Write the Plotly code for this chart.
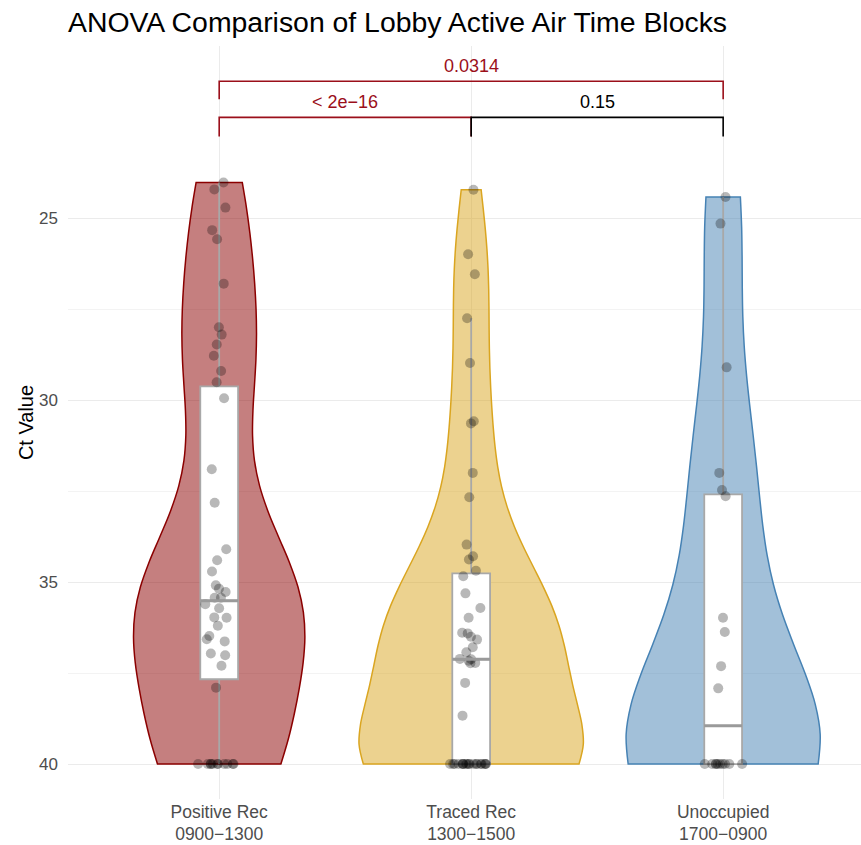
import numpy as np
import plotly.graph_objects as go

categories = ["Positive Rec<br>0900−1300", "Traced Rec<br>1300−1500", "Unoccupied<br>1700−0900"]

positive_rec = [24.02, 24.21, 24.71, 25.33, 25.58, 26.80, 28.00, 28.20, 28.47, 28.78,
                29.20, 29.51, 29.95, 31.90, 32.82, 34.10, 34.40, 34.71, 35.09, 35.18,
                35.27, 35.43, 35.43, 35.61, 35.72, 35.97, 35.98, 36.20, 36.48, 36.57,
                36.63, 36.96, 37.01, 37.30, 37.90] + [40.0] * 11
traced_rec = [24.22, 25.99, 26.54, 27.75, 28.98, 30.58, 30.64, 32.00, 32.67, 33.97,
              34.29, 34.38, 34.69, 34.84, 35.31, 35.71, 35.98, 36.39, 36.41, 36.50,
              36.58, 36.79, 36.93, 37.11, 37.12, 37.16, 37.22, 37.23, 37.77, 38.67] + [40.0] * 19
unoccupied = [24.42, 25.15, 29.10, 32.00, 32.47, 32.64, 35.98, 36.37, 37.31, 37.92] + [40.0] * 10

series = [positive_rec, traced_rec, unoccupied]

# boxplot statistics
box_q1 = [29.62, 34.76, 32.59]
box_median = [35.51, 37.12, 38.95]
box_q3 = [37.67, 40.0, 40.0]
box_low = [24.02, 27.75, 24.42]
box_high = [40.0, 40.0, 40.0]

p_labels = ["< 2e−16", "0.15", "0.0314"]

line_colors = ["#8B0000", "#DAA520", "#4682B4"]
fill_colors = ["rgba(139,0,0,0.5)", "rgba(218,165,32,0.5)", "rgba(70,130,180,0.5)"]
violin_widths = [0.68, 0.89, 0.77]

FONT = "Liberation Sans, Arial, Helvetica, sans-serif"
RED = "#9B0F1A"
BOX_W = 0.15

fig = go.Figure()

def nrd0(v):
    v = np.asarray(v, float)
    sd = v.std(ddof=1)
    iqr = np.subtract(*np.percentile(v, [75, 25]))
    lo = min(sd, iqr / 1.34) if iqr > 0 else sd
    return 0.9 * lo * len(v) ** -0.2

for i, vals in enumerate(series):
    fig.add_trace(go.Violin(
        x=[i] * len(vals), y=vals, points=False, spanmode="hard",
        bandwidth=nrd0(vals), scalemode="width", width=violin_widths[i],
        fillcolor=fill_colors[i], line=dict(color=line_colors[i], width=1.5),
        box_visible=False, meanline_visible=False, showlegend=False,
        hoverinfo="skip",
    ))

for i in range(3):
    fig.add_trace(go.Box(
        x=[i], q1=[box_q1[i]], median=[box_median[i]], q3=[box_q3[i]],
        lowerfence=[box_low[i]], upperfence=[box_high[i]],
        width=BOX_W, whiskerwidth=0, fillcolor="white",
        line=dict(color="#A8A8A8", width=1.8), boxpoints=False,
        showlegend=False, hoverinfo="skip",
    ))
    # thicker median bar as in ggplot boxplots
    fig.add_trace(go.Scatter(
        x=[i - BOX_W / 2, i + BOX_W / 2], y=[box_median[i]] * 2, mode="lines",
        line=dict(color="#9A9A9A", width=3), showlegend=False, hoverinfo="skip",
    ))

for i, vals in enumerate(series):
    fig.add_trace(go.Box(
        x=[i] * len(vals), y=vals, boxpoints="all", jitter=0.85, pointpos=0,
        width=0.2, fillcolor="rgba(0,0,0,0)", line=dict(width=0, color="rgba(0,0,0,0)"),
        marker=dict(color="rgba(0,0,0,0.28)", size=10, line=dict(width=0)),
        showlegend=False, hoverinfo="y",
    ))

# significance brackets
brackets = [(0, 1, 22.23, 22.76, RED, p_labels[0]),
            (1, 2, 22.23, 22.76, "black", p_labels[1]),
            (0, 2, 21.24, 21.73, RED, p_labels[2])]
for x0, x1, yb, yt, col, lab in brackets:
    fig.add_shape(type="path", xref="x", yref="y",
                  path=f"M {x0},{yt} L {x0},{yb} L {x1},{yb} L {x1},{yt}",
                  line=dict(color=col, width=1.6))
    fig.add_annotation(x=(x0 + x1) / 2, y=yb - 0.1, xref="x", yref="y",
                       text=lab, showarrow=False, yanchor="bottom",
                       font=dict(family=FONT, size=18, color=col))

fig.update_layout(
    width=861, height=845,
    margin=dict(l=68, r=0, t=46, b=46),
    plot_bgcolor="white", paper_bgcolor="white",
    title=dict(text="ANOVA Comparison of Lobby Active Air Time Blocks",
               x=68 / 861, xanchor="left", y=1 - 22 / 845, yanchor="middle",
               font=dict(family=FONT, size=28.4, color="black")),
    font=dict(family=FONT),
    violinmode="overlay", boxmode="overlay",
    xaxis=dict(range=[-0.6, 2.547], tickmode="array", tickvals=[0, 1, 2],
               ticktext=categories, showgrid=True, gridcolor="#EBEBEB", gridwidth=1.1,
               zeroline=False, showline=False, ticks="", ticklabelstandoff=0,
               tickfont=dict(family=FONT, size=17.5, color="#4D4D4D")),
    yaxis=dict(range=[40.96, 20.27], tickmode="array", tickvals=[25, 30, 35, 40],
               showgrid=True, gridcolor="#EBEBEB", gridwidth=1.1,
               minor=dict(tickmode="array", tickvals=[27.5, 32.5, 37.5], showgrid=True,
                          gridcolor="#F3F3F3", gridwidth=0.7, ticks=""),
               zeroline=False, showline=False, ticks="", ticklabelstandoff=9,
               tickfont=dict(family=FONT, size=17, color="#4D4D4D"),
               title=dict(text="Ct Value", standoff=0,
                          font=dict(family=FONT, size=20, color="black"))),
)

fig.write_html("out.html", config={"displayModeBar": False},
               post_script="document.body.style.margin='0';document.body.style.overflow='hidden';")
